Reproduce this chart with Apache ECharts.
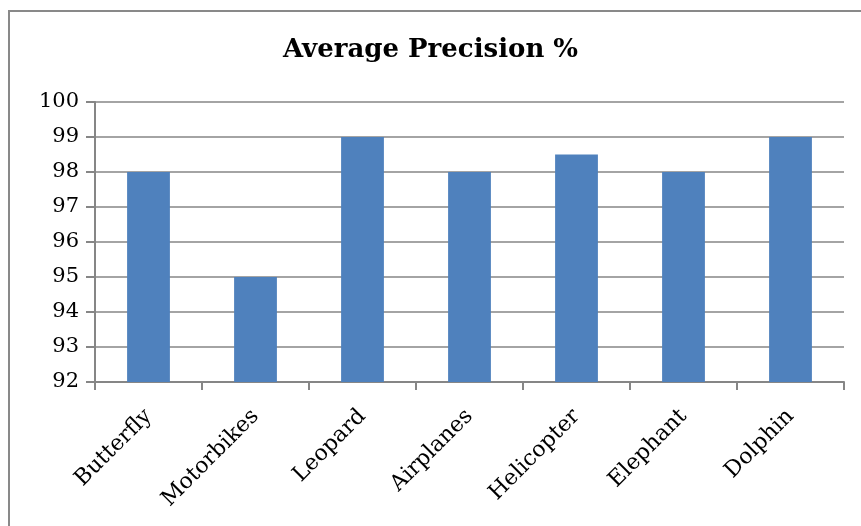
<!DOCTYPE html>
<html>
<head>
<meta charset="utf-8">
<script src="https://cdn.jsdelivr.net/npm/echarts@6/dist/echarts.min.js"></script>
<style>
  html, body { margin: 0; padding: 0; background: #fff; overflow: hidden; }
  #frame { position: absolute; left: 8px; top: 10px; width: 900px; height: 600px; border: 2px solid #898989; }
  #charts { position: absolute; left: 0; top: 0; width: 861px; height: 526px; }
</style>
</head>
<body>
<div id="frame"></div>
<div id="charts"></div>
<script>
// categories and values
let categories = ['Butterfly', 'Motorbikes', 'Leopard', 'Airplanes', 'Helicopter', 'Elephant', 'Dolphin'];
let precision = [98, 95, 99, 98, 98.5, 98, 99];
let yMin = 92, yMax = 100, yStep = 1;

let myChart = echarts.init(document.getElementById('charts'));
let option = {
    animation: false,
    title: {
        text: 'Average Precision %',
        left: 'center',
        top: 32,
        textStyle: {
            fontFamily: 'DejaVu Serif',
            fontWeight: 'bold',
            fontSize: 26,
            color: '#000'
        }
    },
    grid: {
        left: 95,
        right: 17,
        top: 102,
        bottom: 144
    },
    xAxis: {
        type: 'category',
        data: categories,
        axisLine: { lineStyle: { color: '#868686', width: 2 } },
        axisTick: { show: true, length: 8, lineStyle: { color: '#868686', width: 2 } },
        axisLabel: {
            rotate: 45,
            margin: 31,
            interval: 0,
            fontFamily: 'DejaVu Serif',
            fontSize: 22,
            color: '#000'
        }
    },
    yAxis: {
        type: 'value',
        min: yMin,
        max: yMax,
        interval: yStep,
        axisLine: { show: true, lineStyle: { color: '#868686', width: 2 } },
        axisTick: { show: true, length: 9, lineStyle: { color: '#868686', width: 2 } },
        splitLine: { lineStyle: { color: '#868686', width: 1.5 } },
        axisLabel: {
            margin: 16,
            fontFamily: 'DejaVu Serif',
            fontSize: 21,
            color: '#000'
        }
    },
    series: [
        {
            name: 'Average Precision %',
            type: 'bar',
            data: precision,
            barWidth: '40%',
            itemStyle: { color: '#4F81BD' }
        }
    ]
};
myChart.setOption(option);
</script>
</body>
</html>
